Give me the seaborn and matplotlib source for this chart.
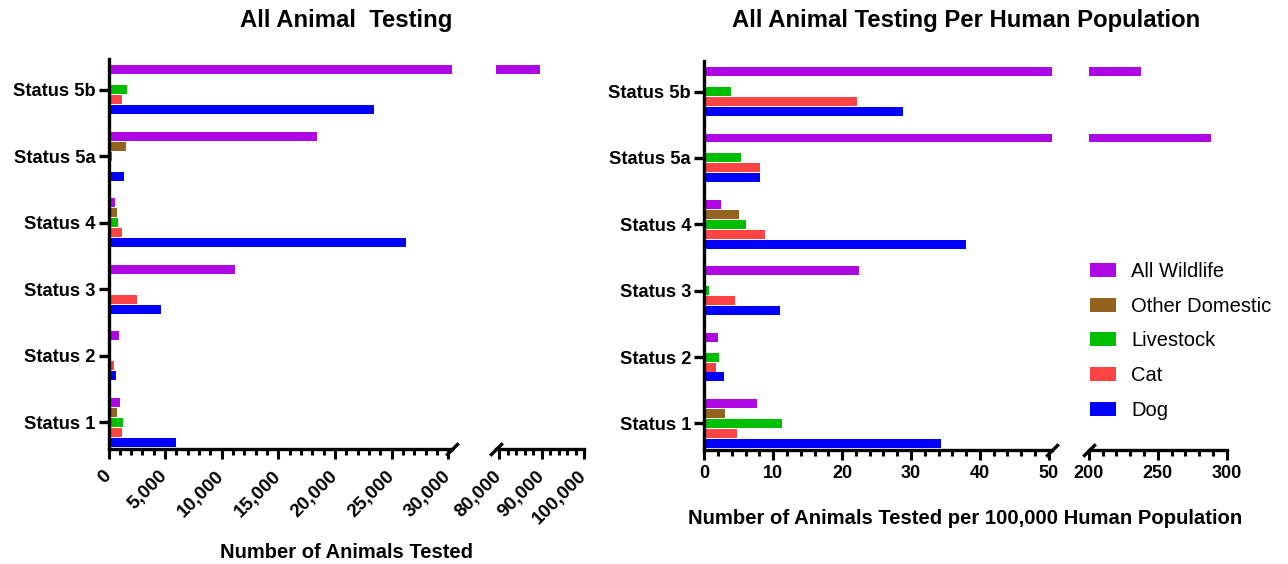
import pandas as pd
import matplotlib.pyplot as plt
import seaborn as sns
from matplotlib.ticker import MultipleLocator, FuncFormatter

# categorias e series
status = ['Status 5b', 'Status 5a', 'Status 4', 'Status 3', 'Status 2', 'Status 1']
animais = ['All Wildlife', 'Other Domestic', 'Livestock', 'Cat', 'Dog']
cores = ['#AD08E3', '#956320', '#00BF00', '#FC4444', '#0000FF']

# numero total de animais testados
total_wildlife = [89700, 18400, 570, 11150, 930, 1010]
total_other = [120, 1550, 750, 40, 0, 750]
total_livestock = [1630, 300, 840, 250, 250, 1280]
total_cat = [1190, 100, 1190, 2520, 490, 1190]
total_dog = [23430, 1370, 26260, 4630, 660, 5960]

# por 100.000 habitantes
pop_wildlife = [238, 288.6, 2.4, 22.4, 1.96, 7.6]
pop_other = [0.15, 0, 5.0, 0, 0, 3.0]
pop_livestock = [3.85, 5.3, 6.0, 0.65, 2.1, 11.25]
pop_cat = [22.1, 8.05, 8.8, 4.4, 1.67, 4.7]
pop_dog = [28.8, 8.05, 37.95, 10.96, 2.83, 34.3]


def tabela_longa(series):
    linhas = []
    for animal, valores in zip(animais, series):
        for s, v in zip(status, valores):
            linhas.append({'status': s, 'animal': animal, 'valor': v})
    return pd.DataFrame(linhas)


tabela_total = tabela_longa([total_wildlife, total_other, total_livestock, total_cat, total_dog])
tabela_pop = tabela_longa([pop_wildlife, pop_other, pop_livestock, pop_cat, pop_dog])

sns.set_theme(style='white')
plt.rcParams['font.family'] = ['Liberation Sans', 'DejaVu Sans']
plt.rcParams['font.weight'] = 'bold'
plt.rcParams['text.color'] = 'black'
plt.rcParams['xtick.color'] = 'black'
plt.rcParams['ytick.color'] = 'black'

W, H = 1288, 564
fig = plt.figure(figsize=(W / 100, H / 100), dpi=100)


def novo_eixo(x0, x1, topo, base):
    return fig.add_axes([x0 / W, 1 - base / H, (x1 - x0) / W, (base - topo) / H])


def desenha(ax, tabela, legenda=False):
    sns.barplot(data=tabela, y='status', x='valor', hue='animal', order=status,
                hue_order=animais, palette=cores, orient='h', width=0.75, gap=0.1,
                saturation=1, linewidth=0, legend=legenda, ax=ax)


def estilo(ax, primeiro):
    sns.despine(ax=ax, left=not primeiro)
    for lado in ['left', 'bottom']:
        ax.spines[lado].set_linewidth(2.4)
        ax.spines[lado].set_color('black')
    ax.tick_params(axis='x', which='major', length=7.5, width=2.2, bottom=True, labelsize=13, pad=3)
    ax.tick_params(axis='x', which='minor', length=4, width=2.2, bottom=True)
    if primeiro:
        ax.tick_params(axis='y', length=7.5, width=2.4, left=True, labelsize=13.2, pad=2)
    else:
        ax.tick_params(axis='y', left=False, labelleft=False)
    ax.set_xlabel('')
    ax.set_ylabel('')
    ax.set_ylim(5.4, -0.46)


# marca de quebra "/" no eixo x
quebra = dict(marker=[(-1, -1), (1, 1)], markersize=9, linestyle='none',
              color='black', mec='black', mew=2.4, clip_on=False)

milhar = FuncFormatter(lambda v, p: f'{v:,.0f}')

# --- painel esquerdo ---
ax1 = novo_eixo(108.5, 451.8, 59, 449)
ax2 = novo_eixo(495.6, 584.2, 59, 449)
desenha(ax1, tabela_total)
desenha(ax2, tabela_total)
ax1.set_xlim(0, 30300)
ax2.set_xlim(79200, 100000)
ax1.xaxis.set_major_locator(MultipleLocator(5000))
ax1.xaxis.set_minor_locator(MultipleLocator(1000))
ax2.xaxis.set_major_locator(MultipleLocator(10000))
ax2.xaxis.set_minor_locator(MultipleLocator(2000))
for ax, primeiro in [(ax1, True), (ax2, False)]:
    estilo(ax, primeiro)
    ax.xaxis.set_major_formatter(milhar)
    ax.tick_params(axis='x', which='major', pad=10, labelsize=13.6)
    plt.setp(ax.get_xticklabels(), rotation=45, ha='right', va='center', rotation_mode='anchor')
ax1.plot([1], [0], transform=ax1.transAxes, **quebra)
ax2.plot([0], [0], transform=ax2.transAxes, **quebra)

# --- painel direito ---
ax3 = novo_eixo(704.3, 1052, 61, 450)
ax4 = novo_eixo(1088.7, 1226.7, 61, 450)
desenha(ax3, tabela_pop, legenda=True)
desenha(ax4, tabela_pop)
ax3.set_xlim(0, 50.46)
ax4.set_xlim(200, 300)
ax3.xaxis.set_major_locator(MultipleLocator(10))
ax3.xaxis.set_minor_locator(MultipleLocator(2))
ax4.xaxis.set_major_locator(MultipleLocator(50))
ax4.xaxis.set_minor_locator(MultipleLocator(10))
estilo(ax3, True)
estilo(ax4, False)
ax3.plot([1], [0], transform=ax3.transAxes, **quebra)
ax4.plot([0], [0], transform=ax4.transAxes, **quebra)

handles, labels = ax3.get_legend_handles_labels()
ax3.get_legend().remove()
fig.legend(handles, labels, loc='center left', bbox_to_anchor=(1072 / W, 1 - 341 / H),
           frameon=False, prop={'size': 14.5, 'weight': 'normal'}, handlelength=1.3,
           handleheight=0.7, labelspacing=0.78, handletextpad=0.75)

# titulos e rotulos
fig.text(346 / W, 1 - 20 / H, 'All Animal  Testing', ha='center', va='center', fontsize=17.2, fontweight='bold')
fig.text(966 / W, 1 - 20 / H, 'All Animal Testing Per Human Population', ha='center', va='center',
         fontsize=17.2, fontweight='bold')
fig.text(346 / W, 1 - 552 / H, 'Number of Animals Tested', ha='center', va='center', fontsize=14.5, fontweight='bold')
fig.text(965 / W, 1 - 518 / H, 'Number of Animals Tested per 100,000 Human Population', ha='center',
         va='center', fontsize=14.6, fontweight='bold')

fig.savefig('out.png', dpi=100)
